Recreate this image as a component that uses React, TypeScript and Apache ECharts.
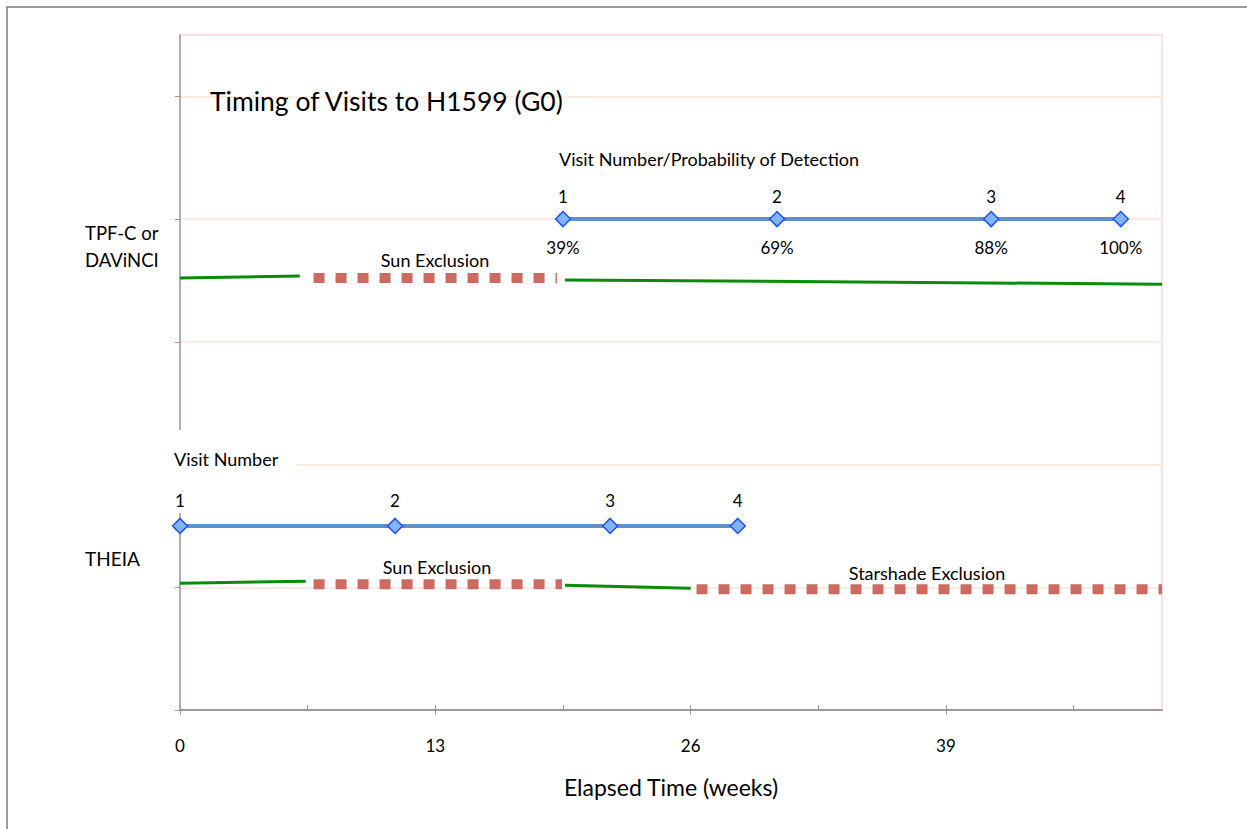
import React, { useEffect, useRef } from "react";
import * as echarts from "echarts";

// ---- data (weeks / lane values) ----
const xMajorTicks = [0, 13, 26, 39];
const xMinorTicks = [0, 6.5, 13, 19.5, 26, 32.5, 39, 45.5];
const yTicks = [0, 1, 2, 3, 4, 5];

const tpfVisitWeeks = [19.5, 30.4, 41.3, 47.9];
const tpfVisitLane = 4;
const tpfVisitNumbers = ["1", "2", "3", "4"];
const tpfProbabilities = ["39%", "69%", "88%", "100%"];

const theiaVisitWeeks = [0, 10.95, 21.9, 28.4];
const theiaVisitLane = 1.5;
const theiaVisitNumbers = ["1", "2", "3", "4"];

// observable (green) and excluded (red) segments: [week, level]
const tpfOpen1 = [[0, 3.52], [6.1, 3.537]];
const tpfSun = [[6.8, 3.52], [19.2, 3.52]];
const tpfOpen2 = [[19.6, 3.504], [50, 3.47]];

const theiaOpen1 = [[0, 1.033], [6.4, 1.049]];
const theiaSun = [[6.8, 1.024], [19.45, 1.024]];
const theiaOpen2 = [[19.6, 1.016], [26.0, 0.992]];
const theiaStarshade = [[26.3, 0.984], [50, 0.984]];

const FONT = "Lato, 'Open Sans', sans-serif";
const GREEN = "#0a8c0a";
const RED = "#cd6b63";
const BLUE = "#5e91cc";

const greenLine = (data: number[][]) => ({
  type: "line",
  data,
  symbol: "none",
  silent: true,
  lineStyle: { color: GREEN, width: 3 },
  z: 3,
});

const redLine = (data: number[][]) => ({
  type: "line",
  data,
  symbol: "none",
  silent: true,
  lineStyle: {
    color: RED,
    width: 10,
    type: [11, 11],
    cap: "butt",
  },
  z: 3,
});

const visitLine = (weeks: number[], lane: number, numbers: string[], dist: number) => ({
  type: "line",
  data: weeks.map((w) => [w, lane]),
  symbol: "diamond",
  symbolSize: 15,
  itemStyle: { color: "#80b4ff", borderColor: "#1f4fff", borderWidth: 1.5 },
  lineStyle: { color: BLUE, width: 4 },
  label: {
    show: true,
    position: "top",
    distance: dist,
    fontFamily: FONT,
    fontSize: 17,
    color: "#000",
    formatter: (p: any) => numbers[p.dataIndex],
  },
  z: 4,
});

export default function App() {
  const ref = useRef<HTMLDivElement>(null);

  useEffect(() => {
    const chart = echarts.init(ref.current!, null, { renderer: "svg" });
    const txt = (x: number, y: number, text: string, size: number, align = "left") => ({
      type: "text",
      x,
      y,
      z: 10,
      style: {
        text,
        fontFamily: FONT,
        fontSize: size,
        fill: "#000",
        align,
        verticalAlign: "middle",
      },
    });
    chart.setOption({
      animation: false,
      backgroundColor: "#fff",
      grid: {
        left: 180,
        top: 35,
        right: 85,
        bottom: 119,
        show: true,
        borderColor: "#ffd3dc",
        borderWidth: 1.5,
      },
      xAxis: [
        {
          type: "value",
          position: "bottom",
          min: 0,
          max: 50,
          interval: 13,
          axisLine: { show: true, lineStyle: { color: "#9a9a9a", width: 2 } },
          axisTick: {
            show: true,
            inside: false,
            length: 5,
            customValues: xMajorTicks,
            lineStyle: { color: "#9a9a9a", width: 1 },
          },
          axisLabel: {
            show: true,
            customValues: xMajorTicks,
            margin: 27,
            fontFamily: FONT,
            fontSize: 17,
            color: "#000",
          },
          splitLine: { show: false },
          name: "Elapsed Time (weeks)",
          nameLocation: "middle",
          nameGap: 65,
          nameTextStyle: { fontFamily: FONT, fontSize: 23, color: "#000" },
        },
        {
          type: "value",
          position: "bottom",
          min: 0,
          max: 50,
          interval: 6.5,
          axisLine: { show: false },
          axisTick: {
            show: true,
            inside: true,
            length: 5,
            customValues: xMinorTicks,
            lineStyle: { color: "#9a9a9a", width: 1 },
          },
          axisLabel: { show: false },
          splitLine: { show: false },
        },
      ],
      yAxis: {
        type: "value",
        min: 0,
        max: 5.5,
        interval: 1,
        axisLine: { show: true, lineStyle: { color: "#9a9a9a", width: 1.5 } },
        axisTick: { show: true, length: 5, customValues: yTicks, lineStyle: { color: "#9a9a9a" } },
        axisLabel: { show: false },
        splitLine: { show: true, lineStyle: { color: "#fde6d8", width: 1.5 } },
      },
      graphic: [
        {
          type: "rect",
          z: 5,
          shape: { x: 7, y: 7, width: 1300, height: 900 },
          style: { fill: "none", stroke: "#9c9c9c", lineWidth: 2 },
        },
        {
          type: "rect",
          z: 1,
          shape: { x: 158, y: 430, width: 138, height: 83 },
          style: { fill: "#fff" },
        },
        txt(210, 101, "Timing of Visits to H1599 (G0)", 26.5),
        txt(559, 159, "Visit Number/Probability of Detection", 18),
        txt(435, 260, "Sun Exclusion", 18, "center"),
        txt(437, 567, "Sun Exclusion", 18, "center"),
        txt(927, 573, "Starshade Exclusion", 18, "center"),
        txt(174, 459, "Visit Number", 18),
        txt(85, 233, "TPF-C or", 18.5),
        txt(85, 260, "DAViNCI", 18.5),
        txt(85, 558, "THEIA", 19),
      ],
      series: [
        greenLine(tpfOpen1),
        redLine(tpfSun),
        greenLine(tpfOpen2),
        greenLine(theiaOpen1),
        redLine(theiaSun),
        greenLine(theiaOpen2),
        redLine(theiaStarshade),
        visitLine(tpfVisitWeeks, tpfVisitLane, tpfVisitNumbers, 6),
        {
          type: "scatter",
          data: tpfVisitWeeks.map((w) => [w, tpfVisitLane]),
          symbol: "circle",
          symbolSize: 1,
          itemStyle: { color: "transparent", opacity: 1 },
          silent: true,
          label: {
            show: true,
            position: "bottom",
            distance: 19,
            fontFamily: FONT,
            fontSize: 17,
            color: "#000",
            opacity: 1,
            formatter: (p: any) => tpfProbabilities[p.dataIndex],
          },
          z: 4,
        },
        visitLine(theiaVisitWeeks, theiaVisitLane, theiaVisitNumbers, 9),
      ],
    });
    return () => chart.dispose();
  }, []);

  return (
    <div
      ref={ref}
      style={{ position: "fixed", left: 0, top: 0, width: 1247, height: 829, background: "#fff" }}
    />
  );
}
